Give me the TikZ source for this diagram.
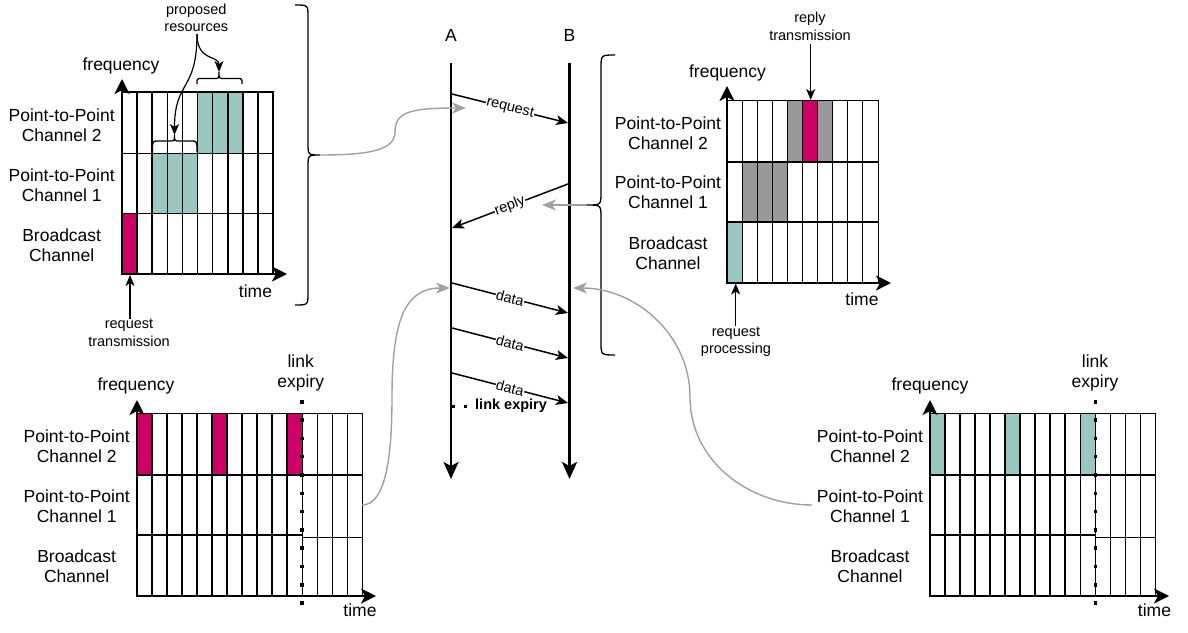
\documentclass[tikz,border=0pt]{standalone}
\usepackage{fontspec}
\setmainfont{Liberation Sans}
\usetikzlibrary{arrows.meta}
\definecolor{tealc}{RGB}{154,199,191}
\definecolor{magc}{RGB}{204,0,102}
\definecolor{grayc}{RGB}{153,153,153}
\definecolor{linkc}{RGB}{160,160,160}
\tikzset{
 lbl/.style={font=\fontsize{17.5}{20}\selectfont, align=center, inner sep=0pt},
 slbl/.style={font=\fontsize{14.5}{17.5}\selectfont, align=center, inner sep=0pt},
 axis/.style={line width=2.5pt, line cap=rect, -{Stealth[length=15pt,width=15pt,inset=4pt]}},
 life/.style={line width=2.7pt, -{Stealth[length=17pt,width=15pt,inset=4pt]}},
 msg/.style={line width=1.5pt, -{Stealth[length=12pt,width=10pt,inset=3pt]}},
 garrow/.style={draw=linkc, line width=1.4pt, -{Stealth[length=14pt,width=11pt,inset=4pt]}},
 sarrow/.style={line width=1.2pt, -{Stealth[length=11pt,width=9pt,inset=3pt]}},
 bracestyle/.style={line width=1.3pt},
 edgelbl/.style={font=\fontsize{14.5}{17.5}\selectfont, fill=white, sloped, inner sep=0.5pt},
 expiry/.style={line width=3.5pt, dash pattern=on 3.5pt off 14.8pt},
 cdots/.style={line width=3pt, dash pattern=on 3pt off 9pt},
 thickgrid/.style={line width=1.6pt},
 thingrid/.style={line width=1pt},
 rowsep/.style={line width=1.8pt},
}
\begin{document}
\begin{tikzpicture}[x=1pt,y=-1pt]
\useasboundingbox (0,0) rectangle (1188,632);

%%%%%%%%%% Top-left grid
\fill[tealc] (197.5,92) rectangle (242.8,153);
\fill[tealc] (152.2,153) rectangle (197.5,213);
\fill[magc] (122,213) rectangle (137.1,274);
\foreach \i in {1,...,9} \draw[thickgrid] ({122+\i*15.1},92) -- ({122+\i*15.1},274);
\draw[thingrid] (122,153) -- (273,153) (122,213) -- (273,213);
\draw[thickgrid] (122,92) -- (273,92) -- (273,274);
\coordinate (tlo) at (122,274); \coordinate (tly) at (122,79); \coordinate (tlx) at (287,274);
\draw[axis] (tlo) -- (tly);
\draw[axis] (tlo) -- (tlx);
\node[lbl] (tlfreq) at (121,65.7) {frequency};
\node[lbl] (tltime) at (255.5,291.7) {time};
\node[lbl] (tlc2) at (61.7,125) {Point-to-Point\\Channel 2};
\node[lbl] (tlc1) at (61.7,185) {Point-to-Point\\Channel 1};
\node[lbl] (tlbc) at (61.7,245) {Broadcast\\Channel};
% small braces
\draw[bracestyle] (197,84) .. controls (197,78.5) .. (202,78.5) -- (214,78.5) .. controls (219,78.5) .. (219,72) .. controls (219,78.5) .. (224,78.5) -- (237,78.5) .. controls (242,78.5) .. (242,84);
\draw[bracestyle] (152.5,152) .. controls (152.5,141) .. (158,141) -- (169,141) .. controls (174.5,141) .. (174.5,135) .. controls (174.5,141) .. (180,141) -- (191.5,141) .. controls (197,141) .. (197,152);
\node[slbl] (prop) at (196.3,18) {proposed\\resources};
\coordinate (propb) at (197,34);
\coordinate (upTip) at (219,72);
\coordinate (loTip) at (174.5,135);
\draw[sarrow] (propb) .. controls (197,62) and (219,55) .. (upTip);
\draw[sarrow] (propb) .. controls (197,92) and (174.5,80) .. (loTip);
\node[slbl] (reqtx) at (129,333) {request\\transmission};
\coordinate (reqtxa) at (130,319); \coordinate (reqtxb) at (130,275);
\draw[sarrow] (reqtxa) -- (reqtxb);
% big brace
\draw[bracestyle] (295,5) .. controls (308,5) .. (308,17) -- (308,143) .. controls (308,155) .. (320,155) .. controls (308,155) .. (308,167) -- (308,293) .. controls (308,305) .. (295,305);

%%%%%%%%%% Top-right grid
\fill[grayc] (787.4,100) rectangle (802.5,162);
\fill[magc] (802.5,100) rectangle (817.6,162);
\fill[grayc] (817.6,100) rectangle (832.7,162);
\fill[grayc] (742.1,162) rectangle (787.4,222);
\fill[tealc] (727,222) rectangle (742.1,283);
\foreach \i in {1,...,9} \draw[thingrid] ({727+\i*15.1},100) -- ({727+\i*15.1},283);
\draw[rowsep] (727,162) -- (878,162) (727,222) -- (878,222);
\draw[thingrid] (727,100) -- (878,100) -- (878,283);
\coordinate (tro) at (727,283); \coordinate (try) at (727,86); \coordinate (trx) at (891,283);
\draw[axis] (tro) -- (try);
\draw[axis] (tro) -- (trx);
\node[lbl] (trfreq) at (727.5,73) {frequency};
\node[lbl] (trtime) at (862,299) {time};
\node[lbl] (trc2) at (668,133) {Point-to-Point\\Channel 2};
\node[lbl] (trc1) at (668,192.7) {Point-to-Point\\Channel 1};
\node[lbl] (trbc) at (668,253) {Broadcast\\Channel};
\node[slbl] (reptx) at (810,26.5) {reply\\transmission};
\coordinate (reptxa) at (810.7,44); \coordinate (reptxb) at (810.7,100);
\draw[sarrow] (reptxa) -- (reptxb);
\node[slbl] (reqpr) at (736,342) {request\\processing};
\coordinate (reqpra) at (735.7,326); \coordinate (reqprb) at (735.7,283.5);
\draw[sarrow] (reqpra) -- (reqprb);
\draw[bracestyle] (615,55) .. controls (601,55) .. (601,68) -- (601,192) .. controls (601,205) .. (587,205) .. controls (601,205) .. (601,218) -- (601,342) .. controls (601,355) .. (615,355);

%%%%%%%%%% Bottom-left grid
\fill[magc] (137,413) rectangle (152,475);
\fill[magc] (212,413) rectangle (227,475);
\fill[magc] (287,413) rectangle (302,475);
\foreach \i in {1,...,10} \draw[thickgrid] ({137+\i*15},413) -- ({137+\i*15},596);
\foreach \i in {11,...,15} \draw[thingrid] ({137+\i*15},413) -- ({137+\i*15},596);
\draw[rowsep] (137,475) -- (362,475);
\draw[rowsep] (137,535) -- (302,535);
\draw[thingrid] (302,537) -- (362,537);
\draw[thingrid] (137,413) -- (362,413);
\coordinate (blo) at (137,596); \coordinate (bly) at (137,400); \coordinate (blx) at (376,596);
\draw[axis] (blo) -- (bly);
\draw[axis] (blo) -- (blx);
\coordinate (ble1) at (302,400); \coordinate (ble2) at (302,619);
\draw[expiry] (ble1) -- (ble2);
\node[lbl] (blfreq) at (136,386) {frequency};
\node[lbl] (bllink) at (300.7,373) {link\\expiry};
\node[lbl] (bltime) at (360,610) {time};
\node[lbl] (blc2) at (76.7,446.3) {Point-to-Point\\Channel 2};
\node[lbl] (blc1) at (76.7,506.3) {Point-to-Point\\Channel 1};
\node[lbl] (blbc) at (76.7,566) {Broadcast\\Channel};

%%%%%%%%%% Bottom-right grid
\fill[tealc] (930,413) rectangle (945.03,475);
\fill[tealc] (1005.15,413) rectangle (1020.18,475);
\fill[tealc] (1080.3,413) rectangle (1095.33,475);
\foreach \i in {1,...,10} \draw[thickgrid] ({930+\i*15.03},413) -- ({930+\i*15.03},596);
\foreach \i in {11,...,15} \draw[thingrid] ({930+\i*15.03},413) -- ({930+\i*15.03},596);
\draw[rowsep] (930,475) -- (1155.5,475);
\draw[rowsep] (930,535) -- (1095.3,535);
\draw[thingrid] (1095.3,537) -- (1155.5,537);
\draw[thingrid] (930,413) -- (1155.5,413);
\coordinate (bro) at (930,596); \coordinate (bry) at (930,400); \coordinate (brx) at (1169,596);
\draw[axis] (bro) -- (bry);
\draw[axis] (bro) -- (brx);
\coordinate (bre1) at (1095.3,400); \coordinate (bre2) at (1095.3,619);
\draw[expiry] (bre1) -- (bre2);
\node[lbl] (brfreq) at (930,386) {frequency};
\node[lbl] (brlink) at (1095,373) {link\\expiry};
\node[lbl] (brtime) at (1154.5,610) {time};
\node[lbl] (brc2) at (870,446.3) {Point-to-Point\\Channel 2};
\node[lbl] (brc1) at (870,506.3) {Point-to-Point\\Channel 1};
\node[lbl] (brbc) at (870,566) {Broadcast\\Channel};

%%%%%%%%%% Sequence
\node[lbl] (lA) at (451,35) {A};
\node[lbl] (lB) at (569.5,35) {B};
\coordinate (A0) at (451,63); \coordinate (A1) at (451,479);
\coordinate (B0) at (569.5,63); \coordinate (B1) at (569.5,479);
\draw[life] (A0) -- (A1);
\draw[life] (B0) -- (B1);
\coordinate (m1a) at (452,94); \coordinate (m1b) at (568,123);
\draw[msg] (m1a) -- node[edgelbl]{request} (m1b);
\coordinate (m2a) at (568,184); \coordinate (m2b) at (452,228);
\draw[msg] (m2a) -- node[edgelbl]{reply} (m2b);
\coordinate (m3a) at (452,283); \coordinate (m3b) at (568,313);
\draw[msg] (m3a) -- node[edgelbl]{data} (m3b);
\coordinate (m4a) at (452,328); \coordinate (m4b) at (568,358);
\draw[msg] (m4a) -- node[edgelbl]{data} (m4b);
\coordinate (m5a) at (452,373); \coordinate (m5b) at (568,403);
\draw[msg] (m5a) -- node[edgelbl]{data} (m5b);
\node[font=\fontsize{14.5}{17.5}\selectfont\bfseries, inner sep=0pt, anchor=west] (lexp) at (475,406) {link expiry};
\coordinate (Ale) at (452,406);
\draw[cdots] (Ale) -- (lexp.west);

%%%%%%%%%% Gray connectors
\coordinate (tlbt) at (320,155); \coordinate (rqg) at (466,108);
\draw[garrow] (tlbt) .. controls (370,155) and (395,150) .. (395,132) .. controls (395,112) and (410,108) .. (rqg);
\coordinate (trbt) at (587,205); \coordinate (rpg) at (542,205);
\draw[garrow] (trbt) -- (rpg);
\coordinate (blc) at (362,505); \coordinate (dAg) at (450,288);
\draw[garrow] (blc) .. controls (385,505) and (392,460) .. (392,397) .. controls (392,320) and (405,288) .. (dAg);
\coordinate (brc) at (812,505); \coordinate (dBg) at (573,288);
\draw[garrow] (brc) to[out=180,in=-90] (690,397) to[out=90,in=0] (dBg);
\end{tikzpicture}
\end{document}
